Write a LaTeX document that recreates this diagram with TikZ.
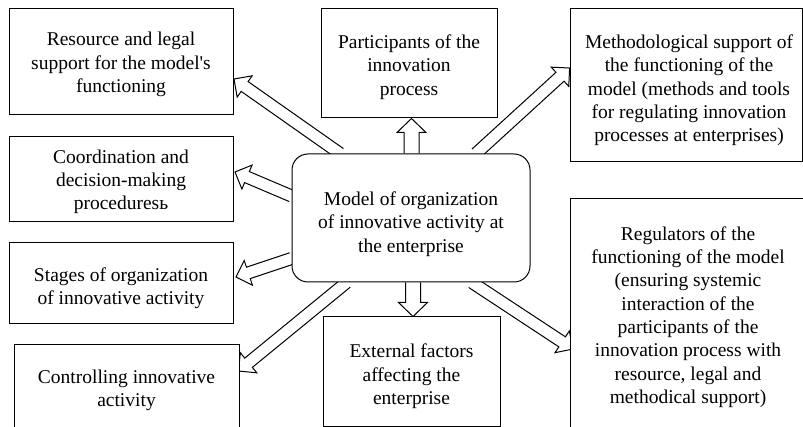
\documentclass[tikz,border=0pt]{standalone}
\usepackage{fontspec}
\setmainfont{Liberation Serif}
\usetikzlibrary{calc,backgrounds}

% hollow block arrow: from, to, shaft half-width, head half-width, head length
\newcommand\hollowarrow[5]{%
  \coordinate (ha-base) at ($(#2)!#5!(#1)$);
  \draw[arrowline]
    ($(#1)!#3!90:(#2)$) -- ($(ha-base)!#3!90:(#2)$) -- ($(ha-base)!#4!90:(#2)$)
    -- (#2) --
    ($(ha-base)!#4!-90:(#2)$) -- ($(ha-base)!#3!-90:(#2)$) -- ($(#1)!#3!-90:(#2)$);
}
\newcommand\diagarrow[2]{\hollowarrow{#1}{#2}{6pt}{13pt}{13pt}}
\newcommand\vertarrow[2]{\hollowarrow{#1}{#2}{7.5pt}{14.5pt}{14pt}}

\begin{document}
\begin{tikzpicture}[x=1pt,y=-1pt,
  box/.style={draw, line width=1pt, fill=white, inner sep=0pt},
  txt/.style={align=center, inner sep=0pt, font=\fontsize{19.5}{23.3}\selectfont},
  arrowline/.style={draw, line width=1pt, fill=white, line join=miter}]
\useasboundingbox (0,0) rectangle (803,427);

% outer boxes
\node[box, minimum width=224pt, minimum height=106pt] (res) at (121,62) {};
\node[box, minimum width=224pt, minimum height=85pt] (coord) at (121,179.5) {};
\node[box, minimum width=224pt, minimum height=81pt] (stages) at (121,283.5) {};
\node[box, minimum width=225pt, minimum height=88pt] (ctrl) at (126.5,389) {};
\node[box, minimum width=176pt, minimum height=109pt] (part) at (409,63.5) {};
\node[box, minimum width=232pt, minimum height=153pt] (meth) at (686,85.5) {};
\node[box, minimum width=236pt, minimum height=232pt] (reg) at (688,315) {};
\node[box, minimum width=177pt, minimum height=109pt] (ext) at (411.5,371.5) {};
% central model
\node[box, rounded corners=16pt, minimum width=238pt, minimum height=128pt] (model) at (411,218) {};

% box texts
\node[txt] (res-t) at ([yshift=-2.5pt]res.center)
  {Resource and legal\\support for the model\textquotesingle s\\functioning};
\node[txt] (coord-t) at ([yshift=-2.5pt]coord.center)
  {Coordination and\\decision-making\\proceduresь};
\node[txt] (stages-t) at ([yshift=-4.5pt]stages.center)
  {Stages of organization\\of innovative activity};
\node[txt] (ctrl-t) at ([yshift=-1.5pt]ctrl.center)
  {Controlling innovative\\activity};
\node[txt] (part-t) at ([yshift=-3.5pt]part.center)
  {Participants of the\\innovation\\process};
\node[txt] (meth-t) at ([xshift=3pt,yshift=-5pt]meth.center)
  {Methodological support of\\the functioning of the\\model (methods and tools\\for regulating innovation\\processes at enterprises)};
\node[txt] (reg-t) at ([yshift=-2pt]reg.center)
  {Regulators of the\\functioning of the model\\(ensuring systemic\\interaction of the\\participants of the\\innovation process with\\resource, legal and\\methodical support)};
\node[txt] (ext-t) at ([yshift=-5pt]ext.center)
  {External factors\\affecting the\\enterprise};
\node[txt] (model-t) at ([yshift=-6pt]model.center)
  {Model of organization\\of innovative activity at\\the enterprise};

% arrow ends
\coordinate (s-res)    at ([xshift=-71pt]model.north);
\coordinate (t-res)    at (234,79);
\coordinate (s-coord)  at ([yshift=22pt]model.west);
\coordinate (t-coord)  at (235,172);
\coordinate (s-stages) at ([yshift=-40.5pt]model.west);
\coordinate (t-stages) at (236,277);
\coordinate (s-ctrl)   at ([xshift=-64.5pt]model.south);
\coordinate (t-ctrl)   at (238.5,371);
\coordinate (s-meth)   at ([xshift=65pt]model.north);
\coordinate (t-meth)   at (569.6,68);
\coordinate (s-reg)    at ([xshift=61pt]model.south);
\coordinate (t-reg)    at (573,349);
\coordinate (s-part)   at ([xshift=0.5pt]model.north);
\coordinate (s-ext)    at ([xshift=2pt]model.south);

\begin{pgfonlayer}{background}
  \fill[white] (0,0) rectangle (803,427);
  \diagarrow{s-res}{t-res}
  \diagarrow{s-coord}{t-coord}
  \diagarrow{s-stages}{t-stages}
  \diagarrow{s-ctrl}{t-ctrl}
  \diagarrow{s-meth}{t-meth}
  \diagarrow{s-reg}{t-reg}
  \vertarrow{s-part}{s-part |- part.south}
  \vertarrow{s-ext}{s-ext |- ext.north}
\end{pgfonlayer}
\end{tikzpicture}
\end{document}
